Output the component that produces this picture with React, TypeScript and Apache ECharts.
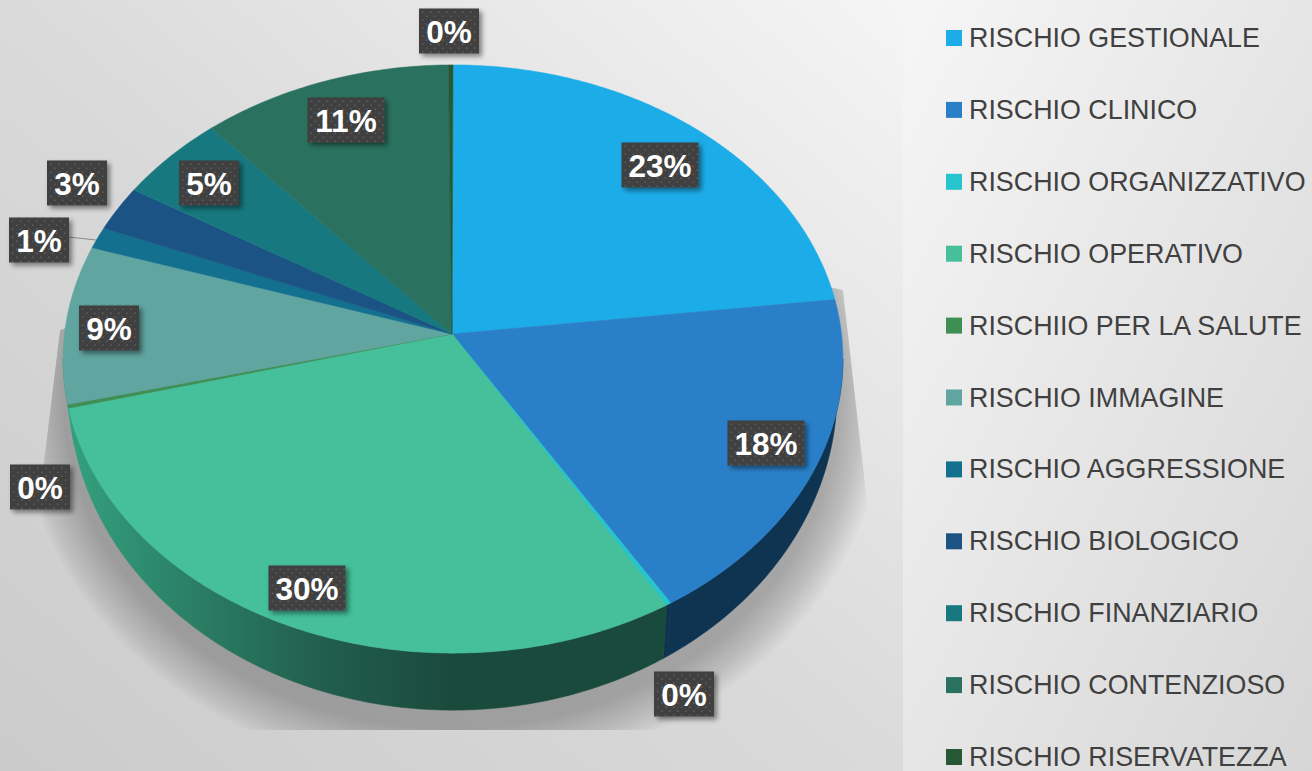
import React, { useEffect, useRef } from "react";
import * as echarts from "echarts";

const sliceNames = [
  "RISCHIO GESTIONALE",
  "RISCHIO CLINICO",
  "RISCHIO ORGANIZZATIVO",
  "RISCHIO OPERATIVO",
  "RISCHIIO PER LA SALUTE",
  "RISCHIO IMMAGINE",
  "RISCHIO AGGRESSIONE",
  "RISCHIO BIOLOGICO",
  "RISCHIO FINANZIARIO",
  "RISCHIO CONTENZIOSO",
  "RISCHIO RISERVATEZZA",
];
const sliceValues = [23.1, 18.2, 0.2, 29.5, 0.2, 8.7, 1.2, 2.5, 4.9, 11.3, 0.2];

const topColors = ["#1cace8", "#2a80c8", "#26c4cc", "#45c09a", "#3f8f55", "#60a5a0", "#14708f", "#1a5384", "#17797f", "#2a725f", "#265833"];
const wallColors = ["#0e5f82", "#0f3452", "#0f3452", "#1a4a3b", "#33a07e", "#33a07e", "#0c4257", "#0f3050", "#0d474b", "#173f35", "#15321d"];

// label box centres, kept apart from the data
const labelCentres: [number, number][] = [
  [660, 165], [766, 443], [684, 694], [307, 588], [40, 487], [109, 328],
  [39, 240], [77, 183], [209, 183], [346, 120], [449, 31],
];

const CX = 452, RIM_X = 453, APEX_Y = 334, RX = 388.5, RY = 292, K = -0.085;
const DEG = Math.PI / 180;
const total = sliceValues.reduce((a, b) => a + b, 0);

function rim(t: number): [number, number] {
  const y = -Math.cos(t);
  const den = 1 + K * y;
  return [RIM_X + (RX * Math.sin(t)) / den, APEX_Y + (RY * y) / den];
}
function rimBottom(t: number): [number, number] {
  const [x, yy] = rim(t);
  const y = -Math.cos(t);
  return [RIM_X + (x - RIM_X) * 0.985, yy + 30 + 27 * y];
}
function sample(a: number, b: number, f: (t: number) => [number, number]) {
  const n = Math.max(1, Math.ceil((b - a) / (0.75 * DEG)));
  const out: [number, number][] = [];
  for (let i = 0; i <= n; i++) out.push(f(a + ((b - a) * i) / n));
  return out;
}
function dotsPath(x: number, y: number, w: number, h: number) {
  let d = "";
  let row = 0;
  for (let yy = y + 3; yy < y + h - 1; yy += 4, row++) {
    for (let xx = x + 3 + (row % 2 ? 4 : 0); xx < x + w - 1; xx += 8) {
      d += `M${xx} ${yy}h1.6v1.6h-1.6z`;
    }
  }
  return d;
}

const wallGradient = () =>
  new echarts.graphic.LinearGradient(70, 0, 450, 0, [
    { offset: 0, color: "#33a07e" },
    { offset: 0.35, color: "#2a7c62" },
    { offset: 0.65, color: "#225f4e" },
    { offset: 1, color: "#1a4a3b" },
  ], true);

function makeSliceItem(index: number) {
  return (_params: any, api: any) => {
    const value = api.value(0);
    let before = 0;
    for (let i = 0; i < index; i++) before += sliceValues[i];
    const a = (before / total) * 2 * Math.PI;
    const b = a + (value / total) * 2 * Math.PI;
    const children: any[] = [];

    const wa = Math.max(a, 94.9 * DEG);
    const wb = Math.min(b, 265.1 * DEG);
    if (wb > wa) {
      const fill = index === 3 ? wallGradient() : wallColors[index];
      children.push({
        type: "polygon",
        z2: 1,
        shape: { points: [...sample(wa, wb, rim), ...sample(wa, wb, rimBottom).reverse()] },
        style: { fill, stroke: fill, lineWidth: 0.6 },
      });
    }
    children.push({
      type: "polygon",
      z2: 5,
      shape: { points: [[CX, APEX_Y], ...sample(a, b, rim)] },
      style: { fill: topColors[index], stroke: topColors[index], lineWidth: 0.5 },
    });

    const text = `${Math.round(value)}%`;
    const [lx, ly] = labelCentres[index];
    const w = text.length > 2 ? 77 : 60;
    const h = 45;
    const bx = lx - w / 2, by = ly - h / 2;
    if (index === 6) {
      children.push({
        type: "line",
        z2: 6,
        shape: { x1: 68, y1: 237, x2: 96, y2: 240 },
        style: { stroke: "#8a8a8a", lineWidth: 1 },
      });
    }
    children.push({
      type: "rect",
      z2: 10,
      shape: { x: bx, y: by, width: w, height: h },
      style: { fill: "#3f3f3f", shadowBlur: 5, shadowColor: "rgba(0,0,0,0.45)", shadowOffsetX: 3, shadowOffsetY: 3 },
    });
    children.push({
      type: "path",
      z2: 11,
      shape: { pathData: dotsPath(bx, by, w, h) },
      style: { fill: "#5d5d5d" },
    });
    children.push({
      type: "text",
      z2: 12,
      style: {
        text,
        x: lx,
        y: ly + 1,
        align: "center",
        verticalAlign: "middle",
        fill: "#ffffff",
        font: 'bold 31.5px "Liberation Sans", Arial, sans-serif',
      },
    });
    return { type: "group", children };
  };
}

function shadowItem() {
  const layers: any[] = [];
  for (let e = 0; e <= 45; e += 3) {
    const pts: [number, number][] = [];
    for (let d = 0; d < 360; d += 2) {
      pts.push([CX + (390 + e) * Math.cos(d * DEG), 395 + (335 + e) * Math.sin(d * DEG)]);
    }
    layers.push({ type: "polygon", shape: { points: pts }, style: { fill: "rgba(0,0,0,0.015)" } });
  }
  return {
    type: "group",
    clipPath: {
      type: "polygon",
      shape: { points: [[843, 290], [868, 510], [868, 730], [43, 730], [43, 470], [60, 330], [452, 200]] },
    },
    children: layers,
  };
}

export default function App() {
  const ref = useRef<HTMLDivElement>(null);
  useEffect(() => {
    document.body.style.margin = "0";
    const chart = echarts.init(ref.current!, null, { renderer: "svg" });
    chart.setOption({
      animation: false,
      graphic: {
        elements: [
          {
            type: "rect",
            z: -10,
            shape: { x: 0, y: 0, width: 903, height: 771 },
            style: {
              fill: new echarts.graphic.LinearGradient(1, 0, 0, 1, [
                { offset: 0, color: "#f5f5f5" },
                { offset: 0.5, color: "#dadada" },
                { offset: 1, color: "#cbcbcb" },
              ]),
            },
          },
          {
            type: "rect",
            z: -10,
            shape: { x: 903, y: 0, width: 409, height: 771 },
            style: {
              fill: new echarts.graphic.LinearGradient(0, 0, 1, 1, [
                { offset: 0, color: "#f6f6f6" },
                { offset: 1, color: "#d6d6d6" },
              ]),
            },
          },
        ],
      },
      legend: {
        orient: "vertical",
        left: 946,
        top: 23,
        height: 800,
        padding: 0,
        itemWidth: 16,
        itemHeight: 16,
        itemGap: 41.9,
        icon: "rect",
        selectedMode: false,
        data: sliceNames,
        textStyle: {
          color: "#404040",
          fontSize: 26.85,
          lineHeight: 30,
          fontFamily: '"Liberation Sans", Arial, sans-serif',
          padding: [0, 0, 0, 2],
        },
      },
      series: [
        {
          type: "custom",
          coordinateSystem: "none",
          silent: true,
          renderItem: shadowItem,
          data: [[0]],
        },
        ...sliceNames.map((name, i) => ({
          type: "custom",
          name,
          coordinateSystem: "none",
          silent: true,
          itemStyle: { color: topColors[i] },
          renderItem: makeSliceItem(i),
          data: [[sliceValues[i]]],
        })),
      ],
    });
    return () => chart.dispose();
  }, []);
  return <div ref={ref} style={{ position: "absolute", left: 0, top: 0, width: 1312, height: 771 }} />;
}
